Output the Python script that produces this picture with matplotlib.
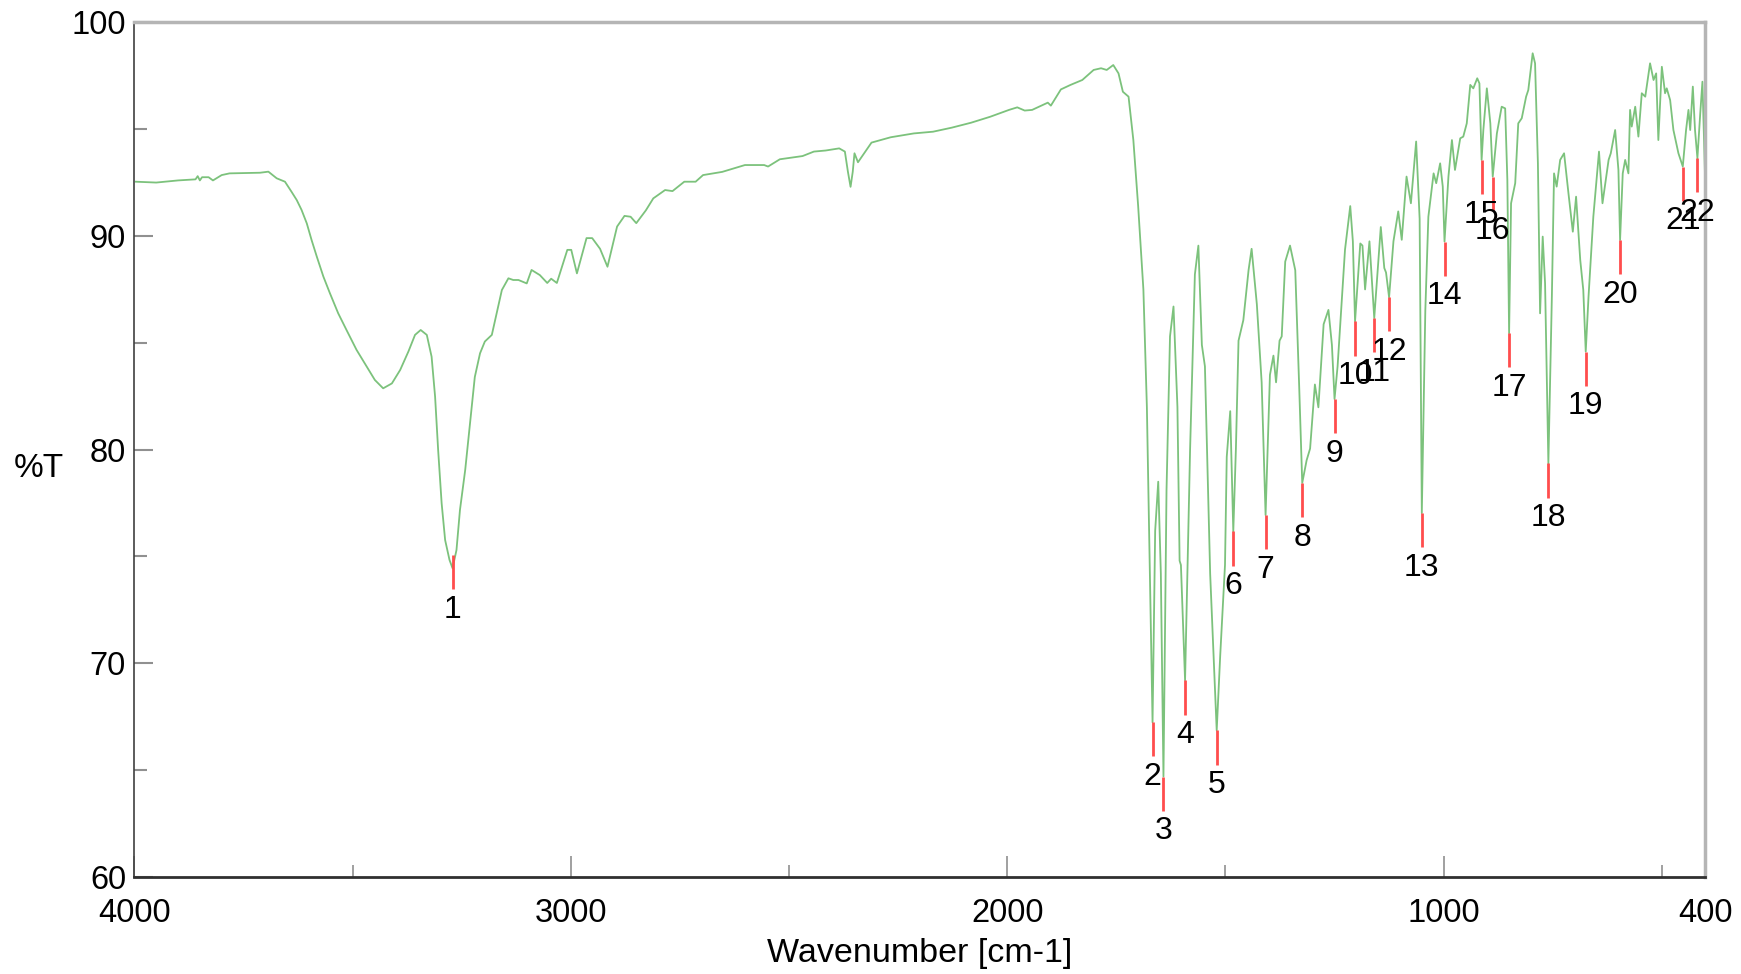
import matplotlib
matplotlib.use("Agg")
import matplotlib.pyplot as plt
from matplotlib.ticker import FixedLocator

plt.rcParams['font.family'] = ['Liberation Sans', 'DejaVu Sans']

# Spectrum trace (wavenumber [cm-1], %T)
wavenumber = [
    3997, 3950, 3900, 3860, 3855, 3850, 3845, 3830, 3820, 3800, 3782, 3740, 3712, 3693,
    3674, 3655, 3640, 3628, 3617, 3605, 3594, 3582, 3567, 3552, 3533, 3514, 3491, 3468,
    3449, 3430, 3410, 3391, 3372, 3357, 3344, 3330, 3319, 3311, 3304, 3296, 3288, 3278,
    3271, 3262, 3254, 3242, 3231, 3220, 3208, 3197, 3181, 3170, 3158, 3143, 3132, 3120,
    3101, 3090, 3071, 3054, 3045, 3032, 3008, 2999, 2986, 2964, 2951, 2933, 2916, 2894,
    2877, 2863, 2850, 2828, 2811, 2784, 2767, 2740, 2714, 2697, 2653, 2601, 2557, 2548,
    2521, 2469, 2443, 2416, 2385, 2372, 2365, 2359, 2354, 2350, 2342, 2311, 2267, 2214,
    2170, 2127, 2083, 2039, 1996, 1977, 1960, 1943, 1907, 1900, 1877, 1855, 1828, 1802,
    1785, 1772, 1757, 1745, 1735, 1722, 1711, 1700, 1688, 1680, 1673, 1667, 1661, 1654,
    1648, 1642, 1635, 1627, 1619, 1610, 1605, 1602, 1592.5, 1581, 1570, 1562, 1554, 1547,
    1535, 1520, 1512, 1501, 1497, 1489, 1482, 1476, 1470, 1459, 1447, 1440, 1428, 1417,
    1408, 1398, 1390, 1384, 1376, 1371, 1363, 1352, 1340, 1331, 1324, 1314, 1306, 1295,
    1287, 1275, 1264, 1256, 1250, 1243, 1226, 1214, 1208, 1203, 1191, 1186, 1180, 1170,
    1159, 1144, 1136, 1132, 1125, 1115, 1104, 1096, 1085, 1075, 1063, 1055, 1050, 1042,
    1035, 1023, 1017, 1008, 1002, 998, 989, 981, 974, 962, 955, 947, 939, 932,
    923, 918, 913, 909, 901, 893, 887.5, 878, 867, 859, 854, 850, 845.5, 836,
    829, 821, 811, 806, 796, 790.5, 784, 779, 773, 767.6, 760, 752, 747, 741,
    733, 724, 714, 704, 696.5, 687, 680, 674.4, 668, 657, 644, 636, 622, 617,
    607, 599.5, 595.7, 589.6, 584, 576.6, 572.8, 569, 561, 553.7, 546, 538, 527, 519,
    513, 508, 500, 492.6, 488.8, 481, 473.5, 462, 452, 444.5, 439, 435, 429, 424,
    418.5, 412, 407, 401,
]
transmittance = [
    92.54, 92.5, 92.6, 92.65, 92.8, 92.6, 92.75, 92.75, 92.6, 92.85, 92.93, 92.95, 92.96, 93.01,
    92.7, 92.54, 92.07, 91.68, 91.22, 90.59, 89.81, 89.03, 88.1, 87.32, 86.38, 85.6, 84.67, 83.9,
    83.26, 82.87, 83.1, 83.73, 84.6, 85.37, 85.6, 85.37, 84.35, 82.48, 79.98, 77.49, 75.77, 74.84,
    74.45, 75.3, 77.18, 79.05, 81.23, 83.4, 84.51, 85.06, 85.37, 86.38, 87.47, 88.02, 87.94, 87.94,
    87.78, 88.41, 88.17, 87.8, 88.0, 87.8, 89.35, 89.35, 88.25, 89.9, 89.9, 89.4, 88.56, 90.44,
    90.94, 90.9, 90.6, 91.2, 91.76, 92.15, 92.1, 92.54, 92.54, 92.85, 93.0, 93.32, 93.32, 93.25,
    93.59, 93.74, 93.95, 94.0, 94.1, 93.95, 93.0, 92.3, 93.0, 93.87, 93.45, 94.37, 94.62, 94.8,
    94.88, 95.07, 95.3, 95.58, 95.9, 96.02, 95.87, 95.9, 96.24, 96.1, 96.86, 97.07, 97.3, 97.77,
    97.85, 97.77, 98.0, 97.61, 96.75, 96.52, 94.49, 91.4, 87.5, 82.0, 74.2, 67.24, 76.2, 78.5,
    74.2, 64.7, 78.1, 85.3, 86.7, 82.0, 74.8, 74.6, 69.2, 80.0, 88.2, 89.55, 84.9, 83.9,
    74.2, 66.86, 70.35, 74.6, 79.66, 81.8, 76.17, 80.05, 85.1, 86.06, 88.4, 89.4, 86.8, 83.15,
    76.94, 83.5, 84.4, 83.15, 85.1, 85.3, 88.8, 89.55, 88.4, 82.96, 78.44, 79.5, 80.05, 83.05,
    81.98, 85.87, 86.54, 84.9, 82.37, 83.9, 89.36, 91.4, 89.75, 86.0, 89.65, 89.55, 87.5, 89.75,
    86.16, 90.42, 88.5, 88.29, 87.13, 89.75, 91.15, 89.82, 92.78, 91.53, 94.42, 90.8, 77.03, 86.5,
    90.9, 92.93, 92.47, 93.4, 92.31, 89.74, 92.78, 94.49, 93.09, 94.57, 94.65, 95.27, 97.07, 96.91,
    97.38, 97.14, 93.56, 94.96, 96.91, 95.27, 92.78, 94.8, 96.05, 95.97, 92.62, 85.45, 91.53, 92.47,
    95.27, 95.51, 96.52, 96.83, 98.55, 98.08, 93.4, 86.38, 89.97, 87.79, 79.36, 87.16, 92.93, 92.31,
    93.56, 93.87, 92.0, 90.2, 91.84, 88.88, 87.47, 84.59, 87.16, 90.9, 93.95, 91.53, 93.56, 93.87,
    94.96, 93.09, 89.81, 92.93, 93.56, 92.93, 95.9, 95.12, 96.05, 94.65, 96.68, 96.52, 98.08, 97.3,
    97.61, 94.49, 97.92, 96.68, 96.91, 96.36, 94.96, 93.87, 93.25, 94.96, 95.9, 94.96, 96.99, 94.96,
    93.64, 95.74, 97.22, 92.78,
]

# Picked peaks
peak_labels = [str(i) for i in range(1, 23)]
peak_wn = [3271, 1667, 1642, 1592.5, 1520, 1482, 1408, 1324, 1250, 1203, 1159, 1125,
           1050, 998, 913, 887.5, 850, 760, 674.4, 595.7, 452, 418.5]
peak_T = [75.07, 67.24, 64.7, 69.2, 66.86, 76.17, 76.94, 78.44, 82.37, 86.0, 86.16, 87.13,
          77.03, 89.74, 93.56, 92.78, 85.45, 79.36, 84.59, 89.81, 93.25, 93.64]

x_major = [4000, 3000, 2000, 1000, 400]
x_minor = [3500, 2500, 1500, 500]
y_major = [60, 70, 80, 90, 100]
y_minor = [65, 75, 85, 95]

fig = plt.figure(figsize=(17.41, 9.74), dpi=100)
ax = fig.add_axes([0.0772, 0.0996, 0.9796 - 0.0772, 0.9771 - 0.0996])

ax.plot(wavenumber, transmittance, color='#7cc27c', lw=1.3, zorder=2)

marker_len = 1.6
for lab, w, t in zip(peak_labels, peak_wn, peak_T):
    ax.plot([w, w], [t, t - marker_len], color='#ff4d4d', lw=2.0, zorder=3,
            solid_capstyle='butt')
    ax.annotate(lab, xy=(w, t - marker_len), xytext=(0, -4), textcoords='offset points',
                ha='center', va='top', fontsize=23, color='black', zorder=4)

ax.set_xlim(4000, 400)
ax.set_ylim(60, 100)

ax.xaxis.set_major_locator(FixedLocator(x_major))
ax.xaxis.set_minor_locator(FixedLocator(x_minor))
ax.yaxis.set_major_locator(FixedLocator(y_major))
ax.yaxis.set_minor_locator(FixedLocator(y_minor))
ax.set_xticklabels([str(v) for v in x_major])
ax.set_yticklabels([str(v) for v in y_major])

ax.tick_params(axis='x', which='major', direction='in', length=15, width=1.2,
               color='#909090', labelsize=23.5, pad=15)
ax.tick_params(axis='x', which='minor', direction='in', length=8.5, width=1.2,
               color='#909090')
ax.tick_params(axis='y', which='major', direction='in', length=14, width=1.5,
               color='#909090', labelsize=23.5, pad=6)
ax.tick_params(axis='y', which='minor', direction='in', length=9, width=1.5,
               color='#909090')

ax.spines['left'].set_color('#404040')
ax.spines['left'].set_linewidth(1.2)
ax.spines['bottom'].set_color('#303030')
ax.spines['bottom'].set_linewidth(2.0)
ax.spines['top'].set_color('#b5b5b5')
ax.spines['top'].set_linewidth(2.5)
ax.spines['right'].set_color('#b5b5b5')
ax.spines['right'].set_linewidth(2.5)

fig.text(0.0223, 0.519, '%T', fontsize=24, ha='center', va='center')
fig.text(0.528, 0.021, 'Wavenumber [cm-1]', fontsize=24.5, ha='center', va='center')

fig.savefig('out.png', dpi=100)
